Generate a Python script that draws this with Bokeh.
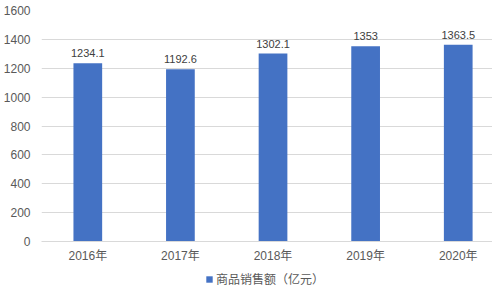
from bokeh.plotting import figure
from bokeh.layouts import column
from bokeh.models import ColumnDataSource, Range1d, FixedTicker, Legend, LegendItem
from bokeh.embed import file_html
from bokeh.resources import INLINE

years = ["2016年", "2017年", "2018年", "2019年", "2020年"]
sales = [1234.1, 1192.6, 1302.1, 1353, 1363.5]
labels = ["1234.1", "1192.6", "1302.1", "1353", "1363.5"]
y_ticks = [0, 200, 400, 600, 800, 1000, 1200, 1400, 1600]
series_name = "商品销售额（亿元）"

FONT = "Liberation Sans, Arial, Noto Sans CJK SC"
BAR = "#4472C4"

xs = list(range(len(years)))
src = ColumnDataSource(dict(x=xs, top=sales, lab=labels))

p = figure(width=492, height=265, output_backend="svg", toolbar_location=None,
           x_range=Range1d(-0.5, 4.37), y_range=Range1d(0, 1600),
           min_border_left=40, min_border_right=0, min_border_top=10, min_border_bottom=10)
p.outline_line_color = None

p.vbar(x="x", top="top", width=0.31, source=src, color=BAR, line_color=None)
p.text(x="x", y="top", text="lab", source=src, text_align="center", text_baseline="bottom",
       y_offset=-6, text_font_size="11px", text_color="#404040", text_font={"value": FONT})

p.xaxis.ticker = FixedTicker(ticks=xs)
p.xaxis.major_label_overrides = {i: y for i, y in enumerate(years)}
p.yaxis.ticker = FixedTicker(ticks=y_ticks)
for ax in (p.xaxis, p.yaxis):
    ax.major_tick_line_color = None
    ax.minor_tick_line_color = None
    ax.major_label_text_font_size = "12px"
    ax.major_label_text_color = "#595959"
    ax.major_label_text_font = FONT
p.yaxis.major_label_standoff = 5
p.xaxis.major_label_standoff = 1
p.yaxis.axis_line_color = None
p.xaxis.axis_line_color = "#d9d9d9"
p.xgrid.grid_line_color = None
p.ygrid.grid_line_color = "#d9d9d9"

# legend strip
p2 = figure(width=492, height=27, output_backend="svg", toolbar_location=None,
            x_range=Range1d(0, 1), y_range=Range1d(0, 1),
            min_border_left=0, min_border_right=0, min_border_top=0, min_border_bottom=0)
p2.axis.visible = False
p2.grid.visible = False
p2.outline_line_color = None
dummy = p2.vbar(x=[-5], top=[-5], width=0.1, color=BAR, line_color=None)
legend = Legend(items=[LegendItem(label=series_name, renderers=[dummy])],
                location=(164, 5), orientation="horizontal",
                label_text_font_size="12px", label_text_color="#595959",
                label_text_font=FONT, glyph_width=8, glyph_height=8,
                border_line_color=None, background_fill_alpha=0,
                padding=0, margin=0, label_standoff=3)
p2.add_layout(legend)

open("out.html", "w").write(file_html(column(p, p2, spacing=0), INLINE))
